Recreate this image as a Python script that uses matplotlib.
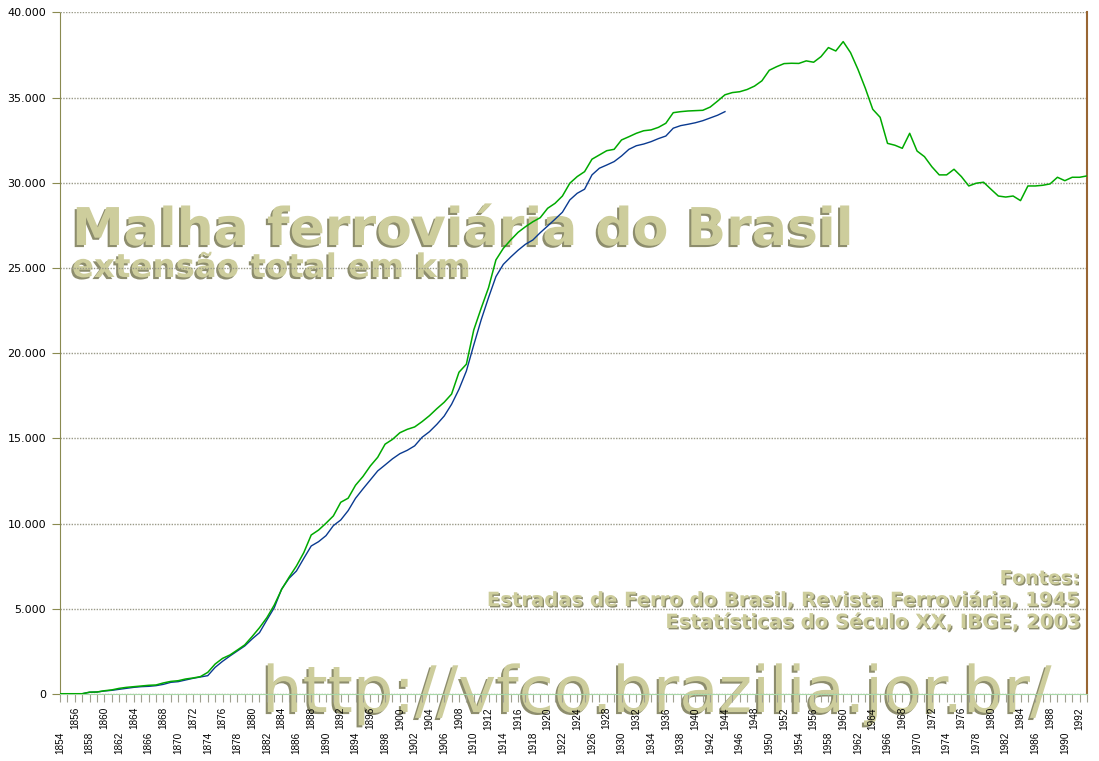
import matplotlib
matplotlib.use('Agg')
import matplotlib.pyplot as plt
import matplotlib.patheffects as pe
from matplotlib.ticker import FuncFormatter, MultipleLocator
from matplotlib.transforms import blended_transform_factory

# ---------------- data ----------------
years = list(range(1854, 1994))
total_ibge = [
    15, 15, 16, 16, 109, 117, 190, 240, 330, 390,                 # 1854-1863
    430, 470, 510, 530, 650, 740, 780, 880, 940, 1020,            # 1864-1873
    1270, 1760, 2090, 2290, 2580, 2880, 3370, 3890, 4480, 5220,   # 1874-1883
    6140, 6850, 7510, 8300, 9330, 9620, 10020, 10450, 11250, 11490,  # 1884-1893
    12250, 12760, 13380, 13890, 14660, 14940, 15330, 15530, 15670, 15980,  # 1894-1903
    16330, 16740, 17120, 17600, 18880, 19350, 21360, 22630, 23840, 25470,  # 1904-1913
    26150, 26640, 27090, 27420, 27710, 27950, 28500, 28790, 29220, 29970,  # 1914-1923
    30360, 30650, 31380, 31630, 31880, 31960, 32510, 32700, 32900, 33050,  # 1924-1933
    33100, 33250, 33490, 34110, 34170, 34210, 34230, 34250, 34440, 34790,  # 1934-1943
    35160, 35290, 35340, 35470, 35670, 35980, 36600, 36810, 36990, 37010,  # 1944-1953
    37000, 37150, 37070, 37400, 37930, 37730, 38280, 37630, 36650, 35540,  # 1954-1963
    34310, 33840, 32310, 32200, 32020, 32900, 31860, 31530, 30940, 30460,  # 1964-1973
    30460, 30790, 30360, 29810, 29970, 30030, 29620, 29220, 29160, 29220,  # 1974-1983
    28950, 29810, 29810, 29850, 29930, 30320, 30120, 30320, 30320, 30400,  # 1984-1993
]
years_rf = list(range(1854, 1945))
total_rf = [
    15, 15, 16, 16, 100, 117, 176, 215, 274, 333,                 # 1854-1863
    391, 430, 450, 489, 567, 685, 724, 822, 919, 998,             # 1864-1873
    1076, 1565, 1917, 2230, 2524, 2817, 3228, 3600, 4343, 5066,   # 1874-1883
    6161, 6787, 7218, 7961, 8685, 8939, 9291, 9880, 10212, 10760,  # 1884-1893
    11485, 12033, 12561, 13090, 13441, 13800, 14100, 14300, 14560, 15060,  # 1894-1903
    15390, 15820, 16310, 17000, 17880, 18950, 20480, 21950, 23260, 24490,  # 1904-1913
    25210, 25640, 26040, 26390, 26640, 27070, 27460, 27860, 28270, 28990,  # 1914-1923
    29380, 29620, 30460, 30850, 31040, 31240, 31570, 31960, 32170, 32270,  # 1924-1933
    32410, 32590, 32740, 33200, 33350, 33430, 33520, 33640, 33800, 33960,  # 1934-1943
    34170,                                                        # 1944
]
label_years = list(range(1854, 1993, 2))

title = "Malha ferroviária do Brasil"
subtitle = "extensão total em km"
sources = ["Fontes:",
           "Estradas de Ferro do Brasil, Revista Ferroviária, 1945",
           "Estatísticas do Século XX, IBGE, 2003"]
url = "http://vfco.brazilia.jor.br/"

# ---------------- figure ----------------
W, H = 1099, 761
fig = plt.figure(figsize=(W / 100, H / 100), dpi=100)
fig.patch.set_facecolor('white')
ax_l, ax_r, ax_t, ax_b = 60, 1087, 12.3, 694
ax = fig.add_axes([ax_l / W, 1 - ax_b / H, (ax_r - ax_l) / W, (ax_b - ax_t) / H])
ax.set_facecolor('none')

ax.plot(years_rf, total_rf, color='#0a3a90', lw=1.0, zorder=3)
ax.plot(years, total_ibge, color='#00aa00', lw=1.1, zorder=4)

ax.set_xlim(1854, 1993)
ax.set_ylim(0, 40000)
ax.yaxis.set_major_locator(MultipleLocator(5000))
ax.yaxis.set_major_formatter(FuncFormatter(lambda v, p: f'{int(v):,}'.replace(',', '.')))
ax.grid(axis='y', color='#9a9a88', ls=(0, (1, 1)), lw=1, zorder=1)
ax.set_axisbelow(True)

ax.spines['top'].set_visible(False)
ax.spines['right'].set_color('#996633')
ax.spines['right'].set_linewidth(1.5)
ax.spines['left'].set_color('#8a8a50')
ax.spines['left'].set_linestyle((0, (1, 1)))
ax.spines['bottom'].set_color('#a8d8a8')

ax.set_xticks([])
ax.set_xticks(years, minor=True)
ax.tick_params(axis='x', which='minor', length=6, color='#a0a090', width=0.8, direction='out')
ax.tick_params(axis='y', length=6, color='#8a8a50', labelsize=8, pad=4, labelcolor='black')

trans = blended_transform_factory(ax.transData, ax.transAxes)
axh = ax_b - ax_t
for i, yr in enumerate(label_years):
    off = 38 if i % 2 == 0 else 13
    ax.text(yr, -off / axh, str(yr), transform=trans, rotation=90, ha='center', va='top',
            fontsize=7.2, family='Liberation Sans', color='black', clip_on=False)

FACE = '#cdcd9c'
SHADOW = '#8d8d6d'


def shadow_text(x, y, s, target_w, ha='left', weight='bold', family='DejaVu Sans', off=(-1.5, -1.5)):
    t = fig.text(x / W, 1 - y / H, s, ha=ha, va='baseline', fontsize=30, fontweight=weight,
                 family=family, color=FACE, zorder=-1,
                 path_effects=[pe.SimplePatchShadow(offset=off, shadow_rgbFace=SHADOW, alpha=1),
                               pe.Normal()])
    return t, target_w


items = [
    shadow_text(72, 245, title, 780),
    shadow_text(72, 277, subtitle, 398),
    shadow_text(1080, 584, sources[0], 80, ha='right', off=(1, -1)),
    shadow_text(1080, 606, sources[1], 592, ha='right', off=(1, -1)),
    shadow_text(1080, 628, sources[2], 415, ha='right', off=(1, -1)),
    shadow_text(262, 712, url, 788, weight='normal', off=(-1.5, -1.5)),
]
fig.canvas.draw()
r = fig.canvas.get_renderer()
for t, tw in items:
    bb = t.get_window_extent(r)
    t.set_fontsize(30 * tw / bb.width)

fig.savefig('out.png', dpi=100, facecolor='white')
